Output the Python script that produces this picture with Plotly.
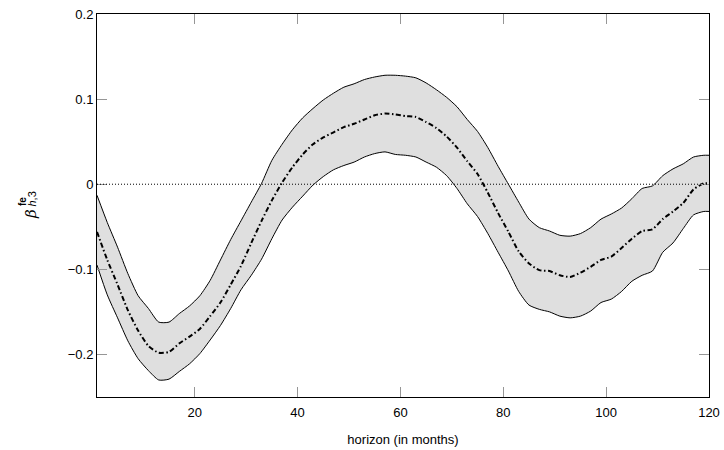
import plotly.graph_objects as go

# Forecast horizon (months) and estimated coefficient with its confidence band
horizon = [1, 3, 5, 7, 9, 11, 13, 15, 17, 19, 21, 23, 25, 27, 29, 31, 33, 35, 37, 39,
           41, 43, 45, 47, 49, 51, 53, 55, 57, 59, 61, 63, 65, 67, 69, 71, 73, 75, 77, 79,
           81, 83, 85, 87, 89, 91, 93, 95, 97, 99, 101, 103, 105, 107, 109, 111, 113, 115, 117, 119, 120]

beta_mean = [-0.056, -0.089, -0.118, -0.148, -0.172, -0.190, -0.198, -0.197, -0.187, -0.179,
             -0.170, -0.155, -0.139, -0.118, -0.096, -0.069, -0.043, -0.019, 0.002, 0.020,
             0.035, 0.047, 0.055, 0.061, 0.067, 0.071, 0.076, 0.081, 0.083, 0.082,
             0.080, 0.079, 0.073, 0.066, 0.056, 0.043, 0.027, 0.012, -0.010, -0.034,
             -0.056, -0.079, -0.093, -0.101, -0.102, -0.107, -0.109, -0.104, -0.097, -0.089,
             -0.085, -0.075, -0.064, -0.055, -0.053, -0.041, -0.032, -0.022, -0.006, 0.001, 0.001]

beta_upper = [-0.013, -0.045, -0.074, -0.105, -0.131, -0.146, -0.162, -0.162, -0.152, -0.143,
              -0.131, -0.113, -0.089, -0.065, -0.043, -0.021, 0.001, 0.028, 0.047, 0.064,
              0.078, 0.089, 0.099, 0.107, 0.114, 0.118, 0.123, 0.126, 0.128, 0.128,
              0.127, 0.125, 0.119, 0.111, 0.102, 0.091, 0.076, 0.062, 0.043, 0.021,
              0.000, -0.021, -0.041, -0.051, -0.055, -0.060, -0.061, -0.058, -0.051, -0.041,
              -0.035, -0.028, -0.017, -0.005, -0.002, 0.010, 0.018, 0.024, 0.032, 0.034, 0.034]

beta_lower = [-0.095, -0.130, -0.157, -0.184, -0.205, -0.219, -0.230, -0.229, -0.220, -0.211,
              -0.199, -0.183, -0.166, -0.146, -0.124, -0.107, -0.088, -0.064, -0.042, -0.027,
              -0.014, -0.001, 0.009, 0.017, 0.022, 0.026, 0.032, 0.036, 0.038, 0.035,
              0.034, 0.032, 0.026, 0.020, 0.010, -0.005, -0.023, -0.038, -0.058, -0.080,
              -0.102, -0.126, -0.142, -0.147, -0.150, -0.155, -0.157, -0.155, -0.149, -0.139,
              -0.135, -0.126, -0.114, -0.107, -0.102, -0.080, -0.069, -0.052, -0.036, -0.032, -0.032]

x_ticks = [20, 40, 60, 80, 100, 120]
y_ticks = [-0.2, -0.1, 0, 0.1, 0.2]
y_tick_text = ["\u22120.2", "\u22120.1", "0", "0.1", "0.2"]

FONT = "Liberation Sans, Arial, sans-serif"

fig = go.Figure()

# confidence band
fig.add_trace(go.Scatter(x=horizon, y=beta_lower, mode="lines",
                         line=dict(color="black", width=1, shape="spline", smoothing=0.6),
                         showlegend=False, hoverinfo="skip"))
fig.add_trace(go.Scatter(x=horizon, y=beta_upper, mode="lines",
                         line=dict(color="black", width=1, shape="spline", smoothing=0.6),
                         fill="tonexty", fillcolor="rgb(223,223,223)", showlegend=False, hoverinfo="skip"))
# point estimate
fig.add_trace(go.Scatter(x=horizon, y=beta_mean, mode="lines",
                         line=dict(color="black", width=2, dash="5px,2.5px,1.5px,2.5px",
                                   shape="spline", smoothing=0.6),
                         showlegend=False))

# zero reference line
fig.add_hline(y=0, line=dict(color="black", width=1, dash="1px,2px"))

axis_common = dict(
    showgrid=False, zeroline=False, showline=True, linecolor="black", linewidth=1,
    mirror="ticks", ticks="inside", ticklen=10, tickcolor="rgb(150,150,150)", tickwidth=1,
    tickfont=dict(family=FONT, size=13, color="black"), automargin=False,
)

fig.update_xaxes(range=[1, 120], tickvals=x_ticks, ticklabelstandoff=3, **axis_common,
                 title=dict(text="horizon (in months)", font=dict(family=FONT, size=13, color="black"), standoff=16))
fig.update_yaxes(range=[-0.25, 0.2], tickvals=y_ticks, ticktext=y_tick_text, **axis_common)

# y-axis label: beta with stacked super-/subscript
fig.add_annotation(x=-0.1258, y=0.478, xref="paper", yref="paper", text="<i>β</i>", showarrow=False,
                   textangle=-90, font=dict(family="DejaVu Serif", size=15, color="black"))
fig.add_annotation(x=-0.1348, y=0.509, xref="paper", yref="paper", text="<b>fe</b>", showarrow=False,
                   textangle=-90, font=dict(family=FONT, size=10, color="black"))
fig.add_annotation(x=-0.120, y=0.517, xref="paper", yref="paper", text="<i>h</i>,3", showarrow=False,
                   textangle=-90, font=dict(family=FONT, size=11, color="black"))

fig.update_layout(
    width=724, height=450,
    margin=dict(l=97, r=15, t=14, b=53),
    plot_bgcolor="white", paper_bgcolor="white",
    font=dict(family=FONT, size=13, color="black"),
)

fig.write_html("out.html")
